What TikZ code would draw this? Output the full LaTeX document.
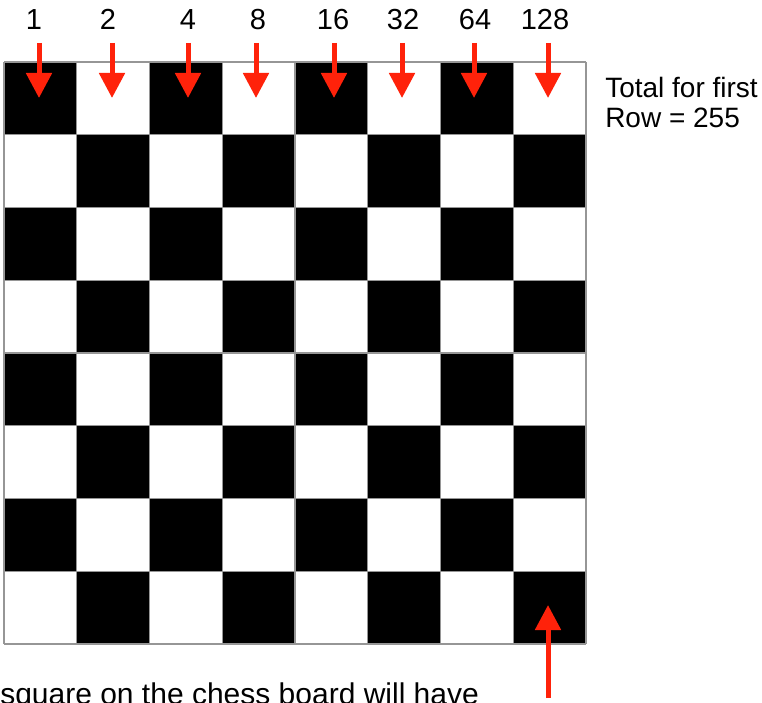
\documentclass[tikz,border=0pt]{standalone}
\usepackage{fontspec}
\setmainfont{Liberation Sans}
\usetikzlibrary{arrows.meta}
\definecolor{arrowred}{RGB}{255,34,10}
\definecolor{gridgray}{RGB}{150,150,150}
\begin{document}
\begin{tikzpicture}[x=0.75pt,y=-0.75pt,
  redarrow/.style={draw=arrowred, line width=3.75pt,
    -{Triangle[width=18.75pt,length=18.75pt]}},
  numlabel/.style={anchor=base, inner sep=0pt, font=\fontsize{21.75}{26}\selectfont},
  sidetext/.style={anchor=base west, inner sep=0pt, font=\fontsize{21}{25}\selectfont},
  bottomtext/.style={anchor=base west, inner sep=0pt, font=\fontsize{22.5}{27}\selectfont},
  gridline/.style={draw=gridgray, line width=0.8pt}]
\useasboundingbox (0,0) rectangle (762,702);
\fill[white] (0,0) rectangle (762,702);
% board squares
\foreach \r in {0,...,7} {
  \foreach \c in {0,...,7} {
    \pgfmathtruncatemacro{\p}{mod(\r+\c,2)}
    \ifnum\p=0
      \fill[black] ({4+\c*72.75},{62+\r*72.75}) rectangle ++(72.75,72.75);
    \fi
  }
}
% grid lines
\foreach \k in {0,...,8} {
  \draw[gridline] ({4+\k*72.75},62) -- ({4+\k*72.75},644);
  \draw[gridline] (4,{62+\k*72.75}) -- (586,{62+\k*72.75});
}
% numbers above columns
\node[numlabel] (n1) at (34,30) {1};
\node[numlabel] (n2) at (108,30) {2};
\node[numlabel] (n3) at (188,30) {4};
\node[numlabel] (n4) at (258,30) {8};
\node[numlabel] (n5) at (333,30) {16};
\node[numlabel] (n6) at (403,30) {32};
\node[numlabel] (n7) at (475,30) {64};
\node[numlabel] (n8) at (545,30) {128};
% arrows into first row
\foreach \i/\x in {1/39,2/112,3/188,4/256,5/334,6/402,7/474,8/548} {
  \coordinate (s\i) at (\x,43);
  \coordinate (e\i) at (\x,98);
  \draw[redarrow] (s\i) -- (e\i);
}
% side text
\node[sidetext] (tot1) at (605,98) {Total for first};
\node[sidetext] (tot2) at (605,128) {Row = 255};
% bottom arrow
\coordinate (bs) at (548,698);
\coordinate (be) at (548,605);
\draw[redarrow] (bs) -- (be);
% bottom text (cut off by the frame)
\node[bottomtext] (btxt) at (0,704) {square on the chess board will have};
\end{tikzpicture}
\end{document}
